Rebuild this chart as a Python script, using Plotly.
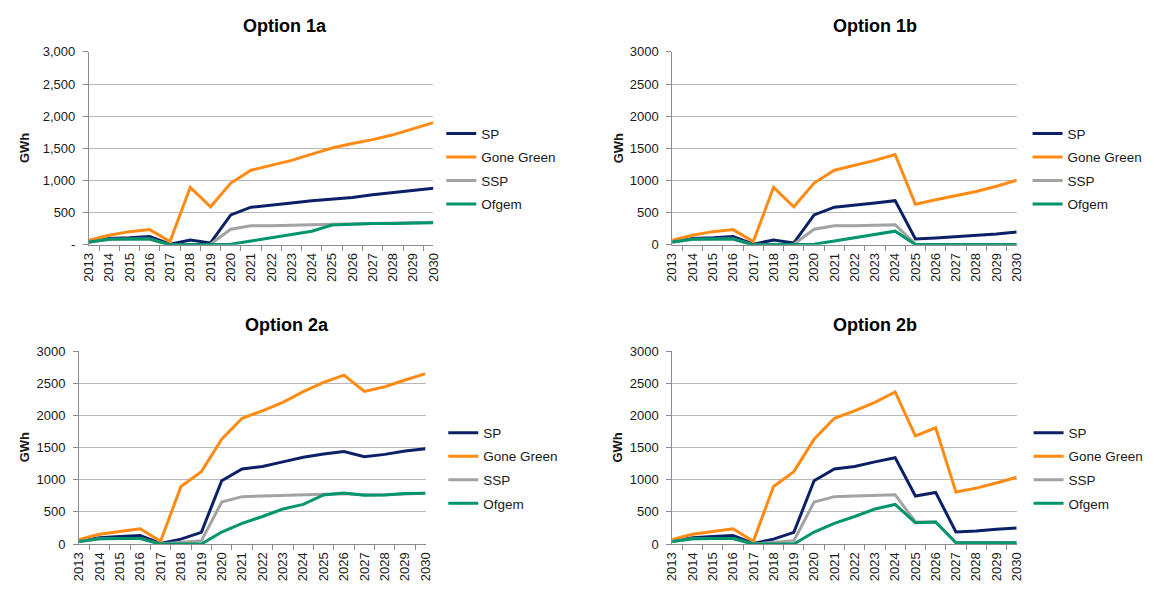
import plotly.graph_objects as go

# Categories
years = [str(y) for y in range(2013, 2031)]
series_names = ["SP", "Gone Green", "SSP", "Ofgem"]
series_colors = ["#0c2068", "#ff8a14", "#a3a3a3", "#00956d"]

# Option 1a (GWh)
sp_1a = [45, 100, 110, 130, 10, 75, 30, 465, 585, 615, 650, 687, 712, 737, 777, 808, 845, 880]
gg_1a = [70, 148, 205, 237, 50, 894, 591, 960, 1160, 1237, 1313, 1409, 1505, 1575, 1635, 1710, 1800, 1900]
ssp_1a = [40, 85, 88, 90, 0, 10, 10, 242, 298, 298, 308, 313, 318, 325, 330, 335, 345, 350]
ofg_1a = [45, 86, 90, 90, 0, 0, 0, 10, 60, 110, 167, 212, 308, 323, 333, 333, 343, 345]

# Option 1b (GWh)
sp_1b = [45, 100, 110, 130, 10, 75, 30, 465, 585, 615, 650, 687, 91, 106, 126, 146, 170, 200]
gg_1b = [70, 148, 205, 237, 50, 894, 591, 960, 1160, 1237, 1313, 1404, 631, 700, 760, 830, 910, 1005]
ssp_1b = [40, 85, 88, 90, 0, 10, 10, 242, 298, 298, 308, 313, 10, 5, 5, 5, 5, 5]
ofg_1b = [45, 86, 90, 90, 0, 0, 0, 10, 60, 110, 167, 212, 5, 5, 5, 5, 5, 5]

# Option 2a (GWh)
sp_2a = [45, 100, 116, 131, 10, 76, 182, 985, 1167, 1207, 1278, 1348, 1399, 1439, 1359, 1394, 1445, 1480]
gg_2a = [71, 152, 197, 237, 45, 894, 1126, 1631, 1955, 2071, 2202, 2369, 2515, 2626, 2374, 2445, 2550, 2650]
ssp_2a = [40, 81, 86, 88, 0, 25, 50, 652, 737, 747, 753, 763, 773, 783, 765, 768, 780, 790]
ofg_2a = [40, 81, 86, 86, 0, 0, 0, 187, 323, 429, 545, 616, 763, 793, 758, 763, 785, 790]

# Option 2b (GWh)
sp_2b = [45, 100, 116, 131, 10, 76, 182, 985, 1167, 1207, 1278, 1343, 747, 803, 187, 202, 230, 250]
gg_2b = [71, 152, 197, 237, 45, 894, 1126, 1631, 1955, 2071, 2202, 2364, 1682, 1808, 808, 869, 950, 1040]
ssp_2b = [40, 81, 86, 88, 0, 25, 50, 652, 737, 747, 753, 768, 343, 343, 25, 25, 25, 25]
ofg_2b = [40, 81, 86, 86, 0, 0, 0, 187, 323, 429, 545, 616, 333, 343, 20, 20, 20, 20]

# Y tick labels
y_ticks = [0, 500, 1000, 1500, 2000, 2500, 3000]
y_labels_comma = ["-", "500", "1,000", "1,500", "2,000", "2,500", "3,000"]
y_labels_plain = ["0", "500", "1000", "1500", "2000", "2500", "3000"]

W, H = 1154, 593
FONT = "Arial, Liberation Sans, sans-serif"
TXT = "#1a1a1a"

panels = [
    # title, data, tick labels, plot box (left, right, top, bottom) px,
    # title centre (x, y), GWh x, legend left x, legend top y
    ("Option 1a", [sp_1a, gg_1a, ssp_1a, ofg_1a], y_labels_comma, (82, 431, 46, 244), 281, 19, 17, 439, 114),
    ("Option 1b", [sp_1b, gg_1b, ssp_1b, ofg_1b], y_labels_plain, (673, 1022, 46, 244), 878, 19, 618, 1033, 114),
    ("Option 2a", [sp_2a, gg_2a, ssp_2a, ofg_2a], y_labels_plain, (72, 423, 353, 551), 283, 326, 17, 441, 421),
    ("Option 2b", [sp_2b, gg_2b, ssp_2b, ofg_2b], y_labels_plain, (673, 1022, 353, 551), 878, 326, 618, 1034, 421),
]

fig = go.Figure()
annotations = []
layout = {}

for i, (title, data, ylabels, box, tx, ty, gx, lx, ly) in enumerate(panels):
    n = i + 1
    xa = "x" if n == 1 else f"x{n}"
    ya = "y" if n == 1 else f"y{n}"
    lg = "legend" if n == 1 else f"legend{n}"
    left, right, top, bottom = box

    for name, vals, col in zip(series_names, data, series_colors):
        fig.add_trace(go.Scatter(
            x=years, y=vals, name=name, mode="lines",
            line=dict(color=col, width=3),
            xaxis=xa, yaxis=ya, legend=lg, legendgroup=f"{lg}-{name}",
        ))

    layout[f"xaxis{'' if n == 1 else n}"] = dict(
        domain=[left / W, right / W], anchor=ya, type="category",
        tickangle=-90, ticks="outside", tickson="boundaries", ticklen=5,
        tickcolor="#8c8c8c", showline=True, linecolor="#8c8c8c", linewidth=1,
        showgrid=False, tickfont=dict(family=FONT, size=13, color=TXT),
        ticklabelstandoff=2, fixedrange=True,
    )
    layout[f"yaxis{'' if n == 1 else n}"] = dict(
        domain=[1 - bottom / H, 1 - top / H], anchor=xa,
        range=[0, 3000], tickvals=y_ticks, ticktext=ylabels,
        showgrid=True, gridcolor="#b8b8b8", gridwidth=1,
        showline=True, linecolor="#8c8c8c", linewidth=1,
        ticks="outside", ticklen=5, tickcolor="#8c8c8c", zeroline=False,
        tickfont=dict(family=FONT, size=13, color=TXT),
        ticklabelstandoff=5, fixedrange=True,
    )
    layout[lg] = dict(
        x=lx / W, y=1 - ly / H,
        xanchor="left", yanchor="top", traceorder="grouped",
        tracegroupgap=3, bgcolor="rgba(0,0,0,0)",
        font=dict(family=FONT, size=13.5, color=TXT),
    )
    annotations.append(dict(
        text=f"<b>{title}</b>", x=tx / W, y=1 - ty / H, xref="paper", yref="paper",
        xanchor="center", yanchor="middle", showarrow=False,
        font=dict(family=FONT, size=18, color="#000000"),
    ))
    annotations.append(dict(
        text="<b>GWh</b>", x=gx / W, y=1 - ((top + bottom) / 2) / H,
        xref="paper", yref="paper", xanchor="center", yanchor="middle",
        textangle=-90, showarrow=False,
        font=dict(family=FONT, size=13, color=TXT),
    ))

fig.update_layout(
    width=W, height=H, autosize=False,
    margin=dict(l=0, r=0, t=0, b=0),
    paper_bgcolor="white", plot_bgcolor="white",
    annotations=annotations, showlegend=True,
    **layout,
)

fig.write_html("out.html")
